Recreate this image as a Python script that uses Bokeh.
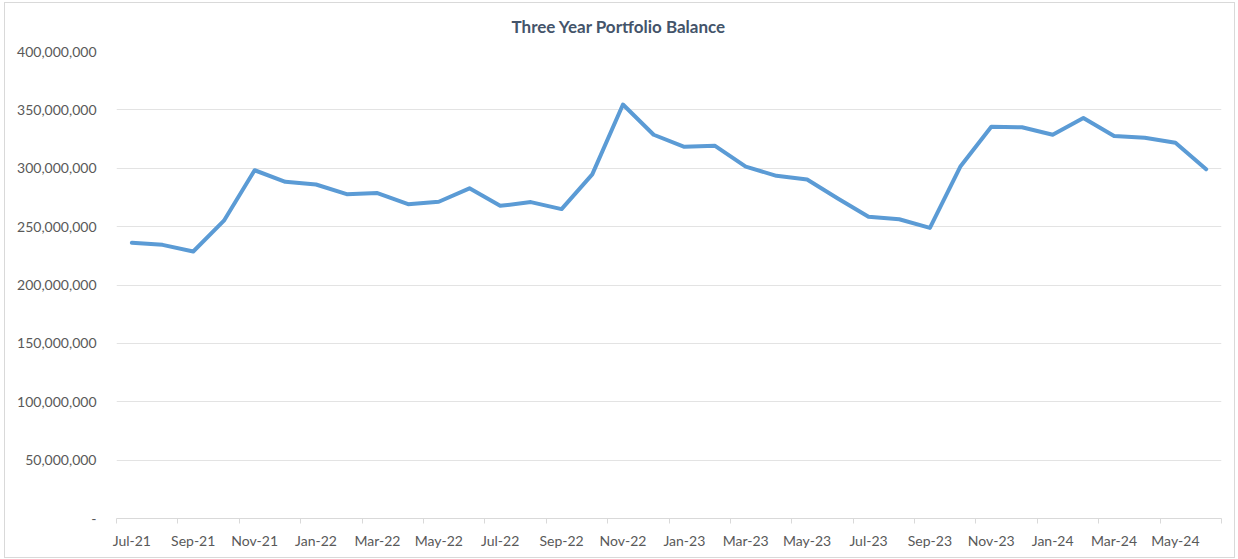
from bokeh.plotting import figure
from bokeh.models import Range1d, FixedTicker, NumeralTickFormatter
from bokeh.embed import file_html
from bokeh.resources import INLINE

months = ["Jul-21", "Aug-21", "Sep-21", "Oct-21", "Nov-21", "Dec-21",
          "Jan-22", "Feb-22", "Mar-22", "Apr-22", "May-22", "Jun-22",
          "Jul-22", "Aug-22", "Sep-22", "Oct-22", "Nov-22", "Dec-22",
          "Jan-23", "Feb-23", "Mar-23", "Apr-23", "May-23", "Jun-23",
          "Jul-23", "Aug-23", "Sep-23", "Oct-23", "Nov-23", "Dec-23",
          "Jan-24", "Feb-24", "Mar-24", "Apr-24", "May-24", "Jun-24"]

balance = [236.1e6, 234.4e6, 228.7e6, 255.1e6, 298.3e6, 288.4e6,
           286.1e6, 277.8e6, 278.7e6, 269.2e6, 271.3e6, 282.8e6,
           267.8e6, 271.0e6, 265.0e6, 294.8e6, 354.6e6, 328.7e6,
           318.4e6, 319.2e6, 301.4e6, 293.5e6, 290.3e6, 274.1e6,
           258.5e6, 256.3e6, 248.9e6, 301.8e6, 335.6e6, 335.1e6,
           328.7e6, 343.1e6, 327.6e6, 326.1e6, 321.8e6, 299.1e6]

y_ticks = [0, 50e6, 100e6, 150e6, 200e6, 250e6, 300e6, 350e6, 400e6]
title_text = "Three Year Portfolio Balance"

FONT = "Lato"
LABEL_COLOR = "#595959"
GRID_COLOR = "#E3E3E3"

x = list(range(len(months)))

p = figure(width=1231, height=556, output_backend="svg", toolbar_location=None,
           x_range=Range1d(-0.5, len(months) - 0.5),
           y_range=Range1d(y_ticks[0], y_ticks[-1]),
           min_border_left=111, min_border_right=15,
           min_border_top=47, min_border_bottom=41,
           title=title_text)
p.outline_line_color = None
p.background_fill_color = "white"
p.border_fill_color = "white"
p.styles = {"border": "1px solid #D9D9D9", "box-sizing": "border-box",
            "margin-left": "4px", "margin-top": "2px"}

# chart title, placed so that it is centred over the whole chart
p.title.align = "left"
p.title.vertical_align = "top"
p.title.offset = 395
p.title.standoff = 25
p.title.text_font = FONT
p.title.text_font_size = "17px"
p.title.text_font_style = "bold"
p.title.text_color = "#44546A"

p.line(x, balance, line_color="#5B9BD5", line_width=4,
       line_join="round", line_cap="round")

# x axis: labels at every other month, tick marks between categories
major = x[::2]
minor = [i - 0.5 for i in range(0, len(months) + 1, 2)]
p.xaxis.ticker = FixedTicker(ticks=major, minor_ticks=minor)
p.xaxis.major_label_overrides = {i: months[i] for i in major}
p.xaxis.major_tick_in = 0
p.xaxis.major_tick_out = 0
p.xaxis.minor_tick_in = 0
p.xaxis.minor_tick_out = 5
p.xaxis.minor_tick_line_color = "#D9D9D9"
p.xaxis.axis_line_color = "#D9D9D9"
p.xaxis.major_label_standoff = 8
p.xaxis.major_label_text_font = FONT
p.xaxis.major_label_text_font_size = "14px"
p.xaxis.major_label_text_color = LABEL_COLOR
p.xgrid.grid_line_color = None

# y axis
p.yaxis.ticker = FixedTicker(ticks=y_ticks)
p.yaxis.formatter = NumeralTickFormatter(format="0,0")
p.yaxis.major_label_overrides = {0: "-"}
p.yaxis.axis_line_color = None
p.yaxis.major_tick_line_color = None
p.yaxis.minor_tick_line_color = None
p.yaxis.major_label_standoff = 14
p.yaxis.major_label_text_font = FONT
p.yaxis.major_label_text_font_size = "14px"
p.yaxis.major_label_text_color = LABEL_COLOR
p.ygrid.grid_line_color = GRID_COLOR
p.ygrid.grid_line_width = 1

open("out.html", "w").write(file_html(p, INLINE))
